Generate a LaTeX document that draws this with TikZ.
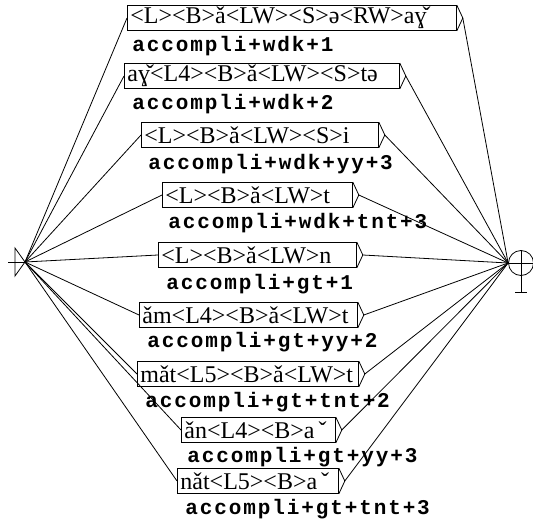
\documentclass[tikz,border=0pt]{standalone}
\usepackage{fontspec}
\setmainfont{Liberation Serif}
\newfontfamily\boxfont{Liberation Serif}
\newfontfamily\outfont[LetterSpace=9]{Liberation Mono}
\begin{document}
\begin{tikzpicture}[x=1pt,y=-1pt,line width=0.8pt,
  box/.style={draw,anchor=west,minimum height=25pt,inner xsep=3pt,inner ysep=0pt,
    align=left,font=\boxfont\fontsize{24}{26}\selectfont},
  outlab/.style={anchor=west,inner sep=0pt,font=\outfont\bfseries\fontsize{21}{24}\selectfont}]
  \useasboundingbox (0,0) rectangle (533,522);
  % initial and final states
  \coordinate (init) at (25,262);
  \draw (8,262) -- (init);
  \draw (15,248) -- (init) -- (15,276) -- cycle;
  \node[draw,circle,minimum size=25pt,inner sep=0pt] (fin) at (521,263) {};
  \draw (fin.west) -- (533,263);
  \draw (fin.north) -- (521,292);
  \draw (515,292) -- (527,292);
  % boxes
  \node[box,text width=323pt] (b1) at (127,18) {<L><B>ǎ<LW><S>ə<RW>aɣ̌};
  \node[box,text width=269pt] (b2) at (124,76) {aɣ̌<L4><B>ǎ<LW><S>tə};
  \node[box,text width=231pt] (b3) at (141,135) {<L><B>ǎ<LW><S>i};
  \node[box,text width=184pt] (b4) at (162,195) {<L><B>ǎ<LW>t};
  \node[box,text width=192pt] (b5) at (158,255) {<L><B>ǎ<LW>n};
  \node[box,text width=212pt] (b6) at (139,315) {ǎm<L4><B>ǎ<LW>t};
  \node[box,text width=215pt] (b7) at (137,374) {mǎt<L5><B>ǎ<LW>t};
  \node[box,text width=148pt] (b8) at (181,430) {ǎn<L4><B>a\,ˇ};
  \node[box,text width=155pt] (b9) at (177,481) {nǎt<L5><B>a\,ˇ};
  % outputs
  \node[outlab] (l1) at (132,46) {accompli+wdk+1};
  \node[outlab] (l2) at (132,104) {accompli+wdk+2};
  \node[outlab] (l3) at (148,164) {accompli+wdk+yy+3};
  \node[outlab] (l4) at (168,223) {accompli+wdk+tnt+3};
  \node[outlab] (l5) at (166,284) {accompli+gt+1};
  \node[outlab] (l6) at (147,342) {accompli+gt+yy+2};
  \node[outlab] (l7) at (145,402) {accompli+gt+tnt+2};
  \node[outlab] (l8) at (187,457) {accompli+gt+yy+3};
  \node[outlab] (l9) at (185,509) {accompli+gt+tnt+3};
  % output marks and transitions
  \foreach \b in {b1,b2,b3,b4,b5,b6,b7,b8,b9} {
    \coordinate (\b o) at ([xshift=6pt]\b.east);
    \draw (\b.north east) -- (\b o) -- (\b.south east);
    \draw (init) -- (\b.west);
    \draw (\b o) -- (fin.west);
  }
\end{tikzpicture}
\end{document}
